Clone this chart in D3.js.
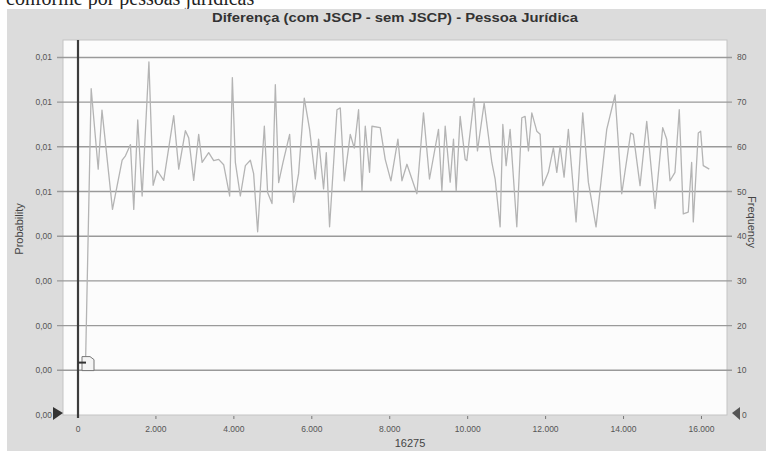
<!DOCTYPE html>
<html>
<head>
<meta charset="utf-8">
<script src="https://cdn.jsdelivr.net/npm/d3@7"></script>
<style>
  html, body { margin: 0; padding: 0; background: #fff; }
  svg { display: block; }
</style>
</head>
<body>
<svg id="chart" width="766" height="451"></svg>
<script>
// ---- data ----
const xValues = [192, 338, 518, 615, 885, 1133, 1218, 1346, 1431, 1533, 1646, 1820, 1928, 2031, 2200, 2456, 2585, 2756, 2841, 2969, 3097, 3185, 3354, 3482, 3610, 3738, 3892, 3961, 4038, 4166, 4295, 4423, 4507, 4610, 4782, 4866, 4979, 5064, 5149, 5261, 5431, 5533, 5661, 5807, 5943, 6090, 6174, 6302, 6372, 6456, 6646, 6731, 6833, 6987, 7090, 7200, 7287, 7372, 7482, 7543, 7756, 7884, 8030, 8210, 8313, 8441, 8697, 8866, 9020, 9251, 9338, 9423, 9551, 9636, 9705, 9807, 9936, 9979, 10166, 10251, 10423, 10620, 10705, 10833, 10902, 10987, 11089, 11261, 11389, 11474, 11559, 11646, 11774, 11859, 11928, 12071, 12200, 12287, 12372, 12474, 12584, 12782, 12953, 13097, 13294, 13569, 13782, 13954, 14184, 14251, 14423, 14595, 14808, 15005, 15108, 15192, 15320, 15430, 15533, 15661, 15748, 15790, 15918, 15979, 16046, 16200];
const frequency = [11, 73, 55, 68.2, 46, 57, 58, 60.5, 46, 66, 49, 79, 51.4, 54.7, 52.5, 67, 55, 63.6, 62, 52.5, 62.8, 56.5, 58.7, 56.9, 57.2, 56, 49, 75.5, 56.5, 49, 55.8, 57, 54, 41, 64.6, 49.8, 47.3, 73.9, 52, 56.5, 62.8, 47.6, 54, 70.9, 63.9, 52.8, 61.7, 50.6, 58.7, 42.1, 68.3, 68.7, 52.4, 62.8, 59.7, 68.3, 50.2, 64.6, 54.3, 64.6, 64.3, 57.2, 52.4, 61.7, 52.4, 56.1, 49.5, 67.6, 52.8, 63.9, 50.2, 64.6, 52.1, 61.7, 50.2, 66.8, 57.2, 56.9, 70.9, 59.1, 69.8, 56.5, 52.8, 42.1, 65, 55.8, 63.9, 42.1, 66.5, 66.8, 59.1, 67.6, 63.5, 62.8, 51.3, 54.3, 59.8, 54.3, 60.2, 53.2, 63.9, 43.2, 67.6, 52.1, 42.1, 63.9, 71.6, 49.5, 63.1, 62.8, 51.3, 65.7, 46.2, 64.3, 61.7, 52.4, 54.3, 68.3, 45, 45.4, 56.5, 43.2, 63.1, 63.5, 55.8, 55];
const freqTicks = [0, 10, 20, 30, 40, 50, 60, 70, 80];
const probLabels = ["0,00", "0,00", "0,00", "0,00", "0,00", "0,01", "0,01", "0,01", "0,01"];
const xTicks = [0, 2000, 4000, 6000, 8000, 10000, 12000, 14000, 16000];
const markerValue = 16275;
const markerPos = 0;
const markerFreq = 11.5;
const titleText = "Diferença (com JSCP - sem JSCP) - Pessoa Jurídica";
const captionText = "conforme por pessoas jurídicas";

// ---- layout ----
const svg = d3.select("#chart");
const plot = { left: 63, right: 727, top: 40, bottom: 415 };
const x = d3.scaleLinear().domain([-385, 16655]).range([plot.left, plot.right]);
const y = d3.scaleLinear().domain([0, 83.9]).range([plot.bottom, plot.top]);
const loc = d3.formatLocale({ decimal: ",", thousands: ".", grouping: [3], currency: ["", ""] });
const fmt = loc.format(",d");
const font = "Arial, 'Liberation Sans', sans-serif";

svg.append("rect").attr("width", 766).attr("height", 451).attr("fill", "#fff");
// caption (cut at the top edge, as in the source page)
svg.append("text").attr("x", 6).attr("y", 5)
  .attr("font-family", "'Liberation Serif', 'Times New Roman', serif")
  .attr("font-size", 20).attr("fill", "#222").text(captionText);
// gray panel
svg.append("rect").attr("x", 7).attr("y", 9).attr("width", 759).attr("height", 442).attr("fill", "#dcdcdc");

// title
svg.append("text").attr("x", 395).attr("y", 22).attr("text-anchor", "middle")
  .attr("font-family", font).attr("font-weight", "bold").attr("font-size", 12.5)
  .attr("fill", "#333").attr("textLength", 366).attr("lengthAdjust", "spacingAndGlyphs")
  .text(titleText);

// plot area
svg.append("rect").attr("x", plot.left).attr("y", plot.top)
  .attr("width", plot.right - plot.left).attr("height", plot.bottom - plot.top)
  .attr("fill", "#fcfcfc").attr("stroke", "#c4c4c4").attr("stroke-width", 1);

// gridlines
svg.append("g").selectAll("line").data(freqTicks.filter(d => d > 0)).join("line")
  .attr("x1", plot.left - 6).attr("x2", plot.right + 5)
  .attr("y1", d => y(d)).attr("y2", d => y(d))
  .attr("stroke", "#9a9a9a").attr("stroke-width", 1.4);

// left labels (probability)
svg.append("g").selectAll("text").data(freqTicks).join("text")
  .attr("x", 52).attr("y", d => y(d) + 3).attr("text-anchor", "end")
  .attr("font-family", font).attr("font-size", 8.5).attr("fill", "#555")
  .text((d, i) => probLabels[i]);
// right labels (frequency)
svg.append("g").selectAll("text").data(freqTicks).join("text")
  .attr("x", d => d === 0 ? 742 : 737).attr("y", d => y(d) + 3)
  .attr("font-family", font).attr("font-size", 8.5).attr("fill", "#555")
  .text(d => d);

// x axis ticks & labels
svg.append("g").selectAll("line").data(xTicks.filter(d => d > 0)).join("line")
  .attr("x1", d => x(d)).attr("x2", d => x(d))
  .attr("y1", plot.bottom + 1).attr("y2", plot.bottom + 4)
  .attr("stroke", "#777").attr("stroke-width", 1);
svg.append("g").selectAll("text").data(xTicks).join("text")
  .attr("x", d => x(d)).attr("y", 432).attr("text-anchor", "middle")
  .attr("font-family", font).attr("font-size", 8.5).attr("fill", "#555")
  .text(d => fmt(d));
svg.append("text").attr("x", 410).attr("y", 447).attr("text-anchor", "middle")
  .attr("font-family", font).attr("font-size", 11).attr("fill", "#444")
  .text(markerValue);

// axis titles
svg.append("text").attr("transform", "translate(23,229) rotate(-90)").attr("text-anchor", "middle")
  .attr("font-family", font).attr("font-size", 11).attr("fill", "#444").text("Probability");
svg.append("text").attr("transform", "translate(748,222) rotate(90)").attr("text-anchor", "middle")
  .attr("font-family", font).attr("font-size", 11).attr("fill", "#444").text("Frequency");

// series line
const line = d3.line().x((d, i) => x(xValues[i])).y(d => y(d));
svg.append("path").datum(frequency).attr("d", line)
  .attr("fill", "none").attr("stroke", "#b4b4b4").attr("stroke-width", 1.3)
  .attr("stroke-linejoin", "round");

// vertical marker line at 0
svg.append("line").attr("x1", x(markerPos)).attr("x2", x(markerPos))
  .attr("y1", plot.top).attr("y2", plot.bottom + 3)
  .attr("stroke", "#3c3c3c").attr("stroke-width", 2.2);

// small marker icon
const mx = x(markerPos) + 4, my = y(markerFreq);
svg.append("path")
  .attr("d", `M${mx},${my - 7} h8 l4,3 v11 h-12 z`)
  .attr("fill", "#f4f4f4").attr("stroke", "#777").attr("stroke-width", 1);
svg.append("line").attr("x1", x(markerPos)).attr("x2", mx + 4)
  .attr("y1", my - 1).attr("y2", my - 1).attr("stroke", "#333").attr("stroke-width", 2);

// arrows
svg.append("path").attr("d", `M${plot.left - 10},${plot.bottom - 8} L${plot.left},${plot.bottom - 2} L${plot.left - 10},${plot.bottom + 5} z`)
  .attr("fill", "#333");
svg.append("path").attr("d", `M${plot.right + 13},${plot.bottom - 8} L${plot.right + 5},${plot.bottom - 2} L${plot.right + 13},${plot.bottom + 5} z`)
  .attr("fill", "#555");
</script>
</body>
</html>
